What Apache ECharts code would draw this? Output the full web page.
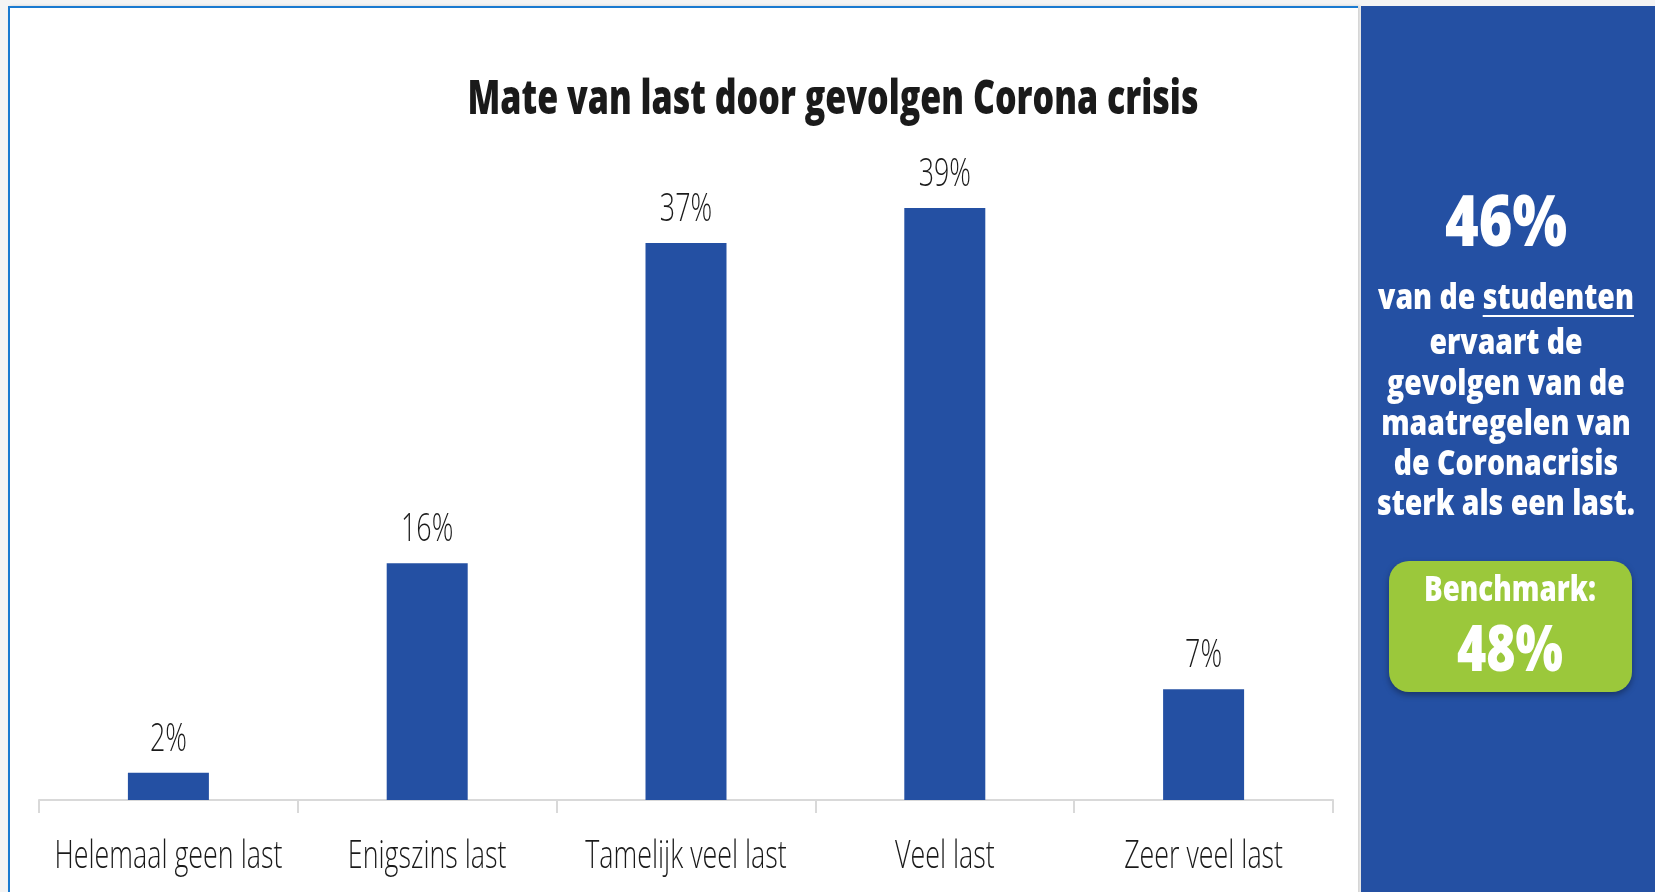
<!DOCTYPE html>
<html>
<head>
<meta charset="utf-8">
<script src="https://cdn.jsdelivr.net/npm/echarts@6/dist/echarts.min.js"></script>
<style>
  html, body { margin: 0; padding: 0; width: 1655px; height: 892px; overflow: hidden; background: #f4f4f4; }
  #paper { position: absolute; left: 8px; top: 6px; width: 1348px; height: 900px; background: #fff;
           border-left: 2px solid #1a7ad0; border-top: 2px solid #1a7ad0; box-shadow: 2px 0 3px rgba(0,0,0,0.15); }
  #side { position: absolute; left: 1361px; top: 6px; width: 294px; height: 900px; background: #2450a3; }
  #main { position: absolute; left: 0; top: 0; width: 1655px; height: 892px; }
</style>
</head>
<body>
<div id="paper"></div>
<div id="side"></div>
<div id="main"></div>
<script>
// gegevens
var categories = ['Helemaal geen last', 'Enigszins last', 'Tamelijk veel last', 'Veel last', 'Zeer veel last'];
var values = [1.8, 15.6, 36.7, 39.0, 7.3];
var titleText = 'Mate van last door gevolgen Corona crisis';
var sideValue = '46%';
var sideLines = ['van de studenten', 'ervaart de', 'gevolgen van de', 'maatregelen van', 'de Coronacrisis', 'sterk als een last.'];
var benchLabel = 'Benchmark:';
var benchValue = '48%';

var BLUE = '#2450a3';
var INK = '#1a1a1a';

// smalle letters nabootsen via scaleX
var ctx = document.createElement('canvas').getContext('2d');
function textW(txt, font) { ctx.font = font; return ctx.measureText(txt).width; }
function fit(txt, font, target) { return target / textW(txt, font); }

var fTitle = '800 48px "Open Sans"';
var fBig = '800 70px "Open Sans"';
var fLine = '800 36px "Open Sans"';
var fBench = '800 35px "Open Sans"';
var fBenchVal = '800 64px "Open Sans"';
var fLab = '300 38px "Open Sans"';

var sTitle = fit(titleText, fTitle, 731);
var sBig = fit(sideValue, fBig, 122);
var sLine = fit(sideLines[5], fLine, 258);
var sBench = fit(benchLabel, fBench, 172);
var sBenchVal = fit(benchValue, fBenchVal, 106);
var sLab = fit(categories[0], fLab, 228);

var cx = 1506;
var lineY = [299, 344, 385, 425, 465, 505];
var graphics = [];
graphics.push({ type: 'text', x: 833, y: 100, scaleX: sTitle,
  style: { text: titleText, x: 0, y: 0, align: 'center', verticalAlign: 'middle', font: fTitle, fill: INK } });
graphics.push({ type: 'text', x: cx, y: 226, scaleX: sBig,
  style: { text: sideValue, x: 0, y: 0, align: 'center', verticalAlign: 'middle', font: fBig, fill: '#fff' } });
sideLines.forEach(function (t, i) {
  graphics.push({ type: 'text', x: cx, y: lineY[i], scaleX: sLine,
    style: { text: t, x: 0, y: 0, align: 'center', verticalAlign: 'middle', font: fLine, fill: '#fff' } });
});
// onderstreping "studenten"
var wFull = textW(sideLines[0], fLine) * sLine;
var wPre = textW('van de ', fLine) * sLine;
var uStart = cx - wFull / 2 + wPre;
graphics.push({ type: 'line', shape: { x1: uStart, y1: 316, x2: cx + wFull / 2, y2: 316 },
  style: { stroke: '#fff', lineWidth: 2 } });
// benchmark blok
graphics.push({ type: 'rect', shape: { x: 1389, y: 561, width: 243, height: 131, r: 20 },
  style: { fill: '#9bc83b', shadowBlur: 6, shadowOffsetY: 3, shadowColor: 'rgba(0,0,0,0.35)' } });
graphics.push({ type: 'text', x: 1510, y: 591, scaleX: sBench,
  style: { text: benchLabel, x: 0, y: 0, align: 'center', verticalAlign: 'middle', font: fBench, fill: '#fff' } });
graphics.push({ type: 'text', x: 1510, y: 653, scaleX: sBenchVal,
  style: { text: benchValue, x: 0, y: 0, align: 'center', verticalAlign: 'middle', font: fBenchVal, fill: '#fff' } });

var myChart = echarts.init(document.getElementById('main'));
var option = {
  backgroundColor: 'transparent',
  animation: false,
  grid: { left: 39, right: 322, top: 117, bottom: 92 },
  xAxis: {
    type: 'category',
    data: categories,
    axisLine: { lineStyle: { color: '#d9d9d9', width: 2 } },
    axisTick: { show: true, length: 13, lineStyle: { color: '#d9d9d9', width: 2 } },
    axisLabel: { show: false }
  },
  yAxis: { type: 'value', min: 0, max: 45, show: false },
  series: [{
    type: 'bar',
    data: values,
    barWidth: 81,
    itemStyle: { color: BLUE }
  }, {
    // waarde- en categorielabels, smal gezet
    type: 'custom',
    data: values.map(function (v, i) { return [i, v]; }),
    renderItem: function (params, api) {
      var top = api.coord([api.value(0), api.value(1)]);
      var base = api.coord([api.value(0), 0]);
      return { type: 'group', children: [
        { type: 'text', x: top[0], y: top[1] - 33, scaleX: sLab,
          style: { text: Math.round(api.value(1)) + '%', x: 0, y: 0, align: 'center', verticalAlign: 'middle', font: fLab, fill: INK } },
        { type: 'text', x: base[0], y: base[1] + 57, scaleX: sLab,
          style: { text: categories[params.dataIndex], x: 0, y: 0, align: 'center', verticalAlign: 'middle', font: fLab, fill: INK } }
      ] };
    },
    z: 5
  }],
  graphic: graphics
};
myChart.setOption(option);
</script>
</body>
</html>
